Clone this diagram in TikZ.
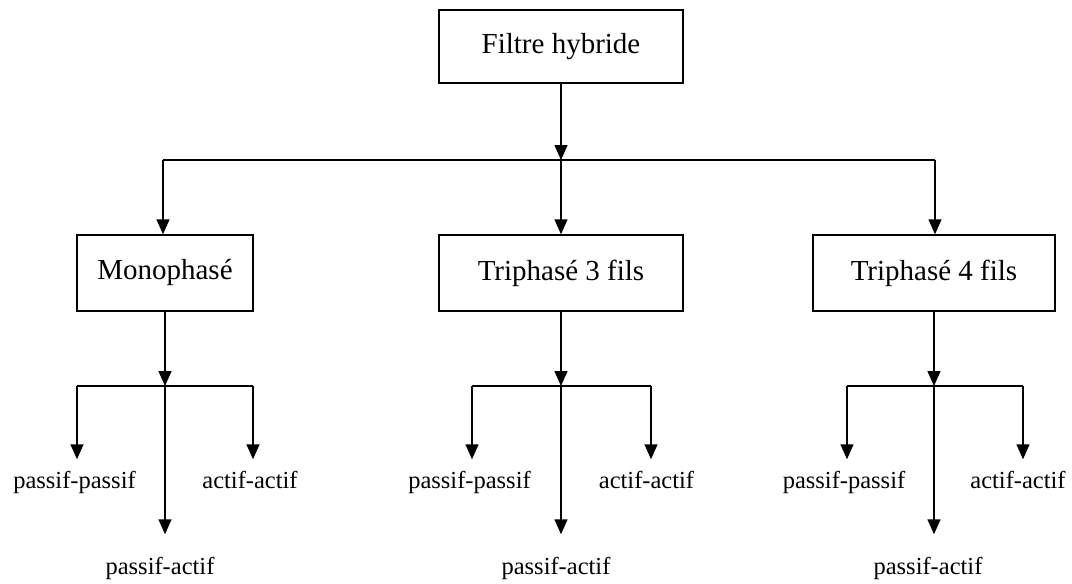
\documentclass[tikz,border=0pt]{standalone}
\usepackage{fontspec}
\setmainfont{Liberation Serif}
\usetikzlibrary{arrows.meta}
\begin{document}
\begin{tikzpicture}[x=1pt,y=-1pt,
  line width=1.5pt,
  arr/.style={-{Triangle[width=13pt,length=15pt]}},
  box/.style={draw,rectangle,minimum height=74pt,font=\fontsize{29}{32}\selectfont,inner sep=0pt},
  lab/.style={font=\fontsize{24.5}{27}\selectfont,anchor=base,text height=17pt,text depth=5pt,inner xsep=0pt,inner ysep=11pt},
  labfar/.style={lab,inner ysep=22pt}]
\useasboundingbox (0,0) rectangle (1072,584);

% tree root and the three families
\node[box,minimum width=244pt,minimum height=73pt] (root) at (561,46.5) {Filtre hybride};
\node[box,minimum width=176pt,minimum height=76pt] (mono) at (165,273) {Monophasé};
\node[box,minimum width=244pt,minimum height=76pt] (tri3) at (561,273) {Triphasé 3 fils};
\node[box,minimum width=242pt,minimum height=76pt] (tri4) at (934,273) {Triphasé 4 fils};

% branch points
\coordinate (j0) at (561,160);
\coordinate (j0l) at (163,160);
\coordinate (j0r) at (935,160);

\draw[arr] (root.south) -- (j0);
\draw (j0l) -- (j0r);
\draw[arr] (j0l) -- (mono.north -| j0l);
\draw[arr] (j0) -- (tri3.north);
\draw[arr] (j0r) -- (tri4.north -| j0r);

% leaves of each family: passif-passif, actif-actif, passif-actif
\foreach \n/\cx/\l/\r/\ppx/\aax/\pax in {
    mono/165/77/253/74.5/250/160,
    tri3/561/472/651/469.5/646.5/556,
    tri4/934/847/1023/844/1018/928}{
  \coordinate (\n-j) at (\cx,386);
  \coordinate (\n-l) at (\l,386);
  \coordinate (\n-r) at (\r,386);
  \node[lab] (\n-pp) at (\ppx,488) {passif-passif};
  \node[lab] (\n-aa) at (\aax,488) {actif-actif};
  \node[labfar] (\n-pa) at (\pax,574) {passif-actif};
  \draw[arr] (\n.south -| \n-j) -- (\n-j);
  \draw (\n-l) -- (\n-r);
  \draw[arr] (\n-l) -- (\n-l |- \n-pp.north);
  \draw[arr] (\n-r) -- (\n-r |- \n-aa.north);
  \draw[arr] (\n-j) -- (\n-j |- \n-pa.north);
}
\end{tikzpicture}
\end{document}
